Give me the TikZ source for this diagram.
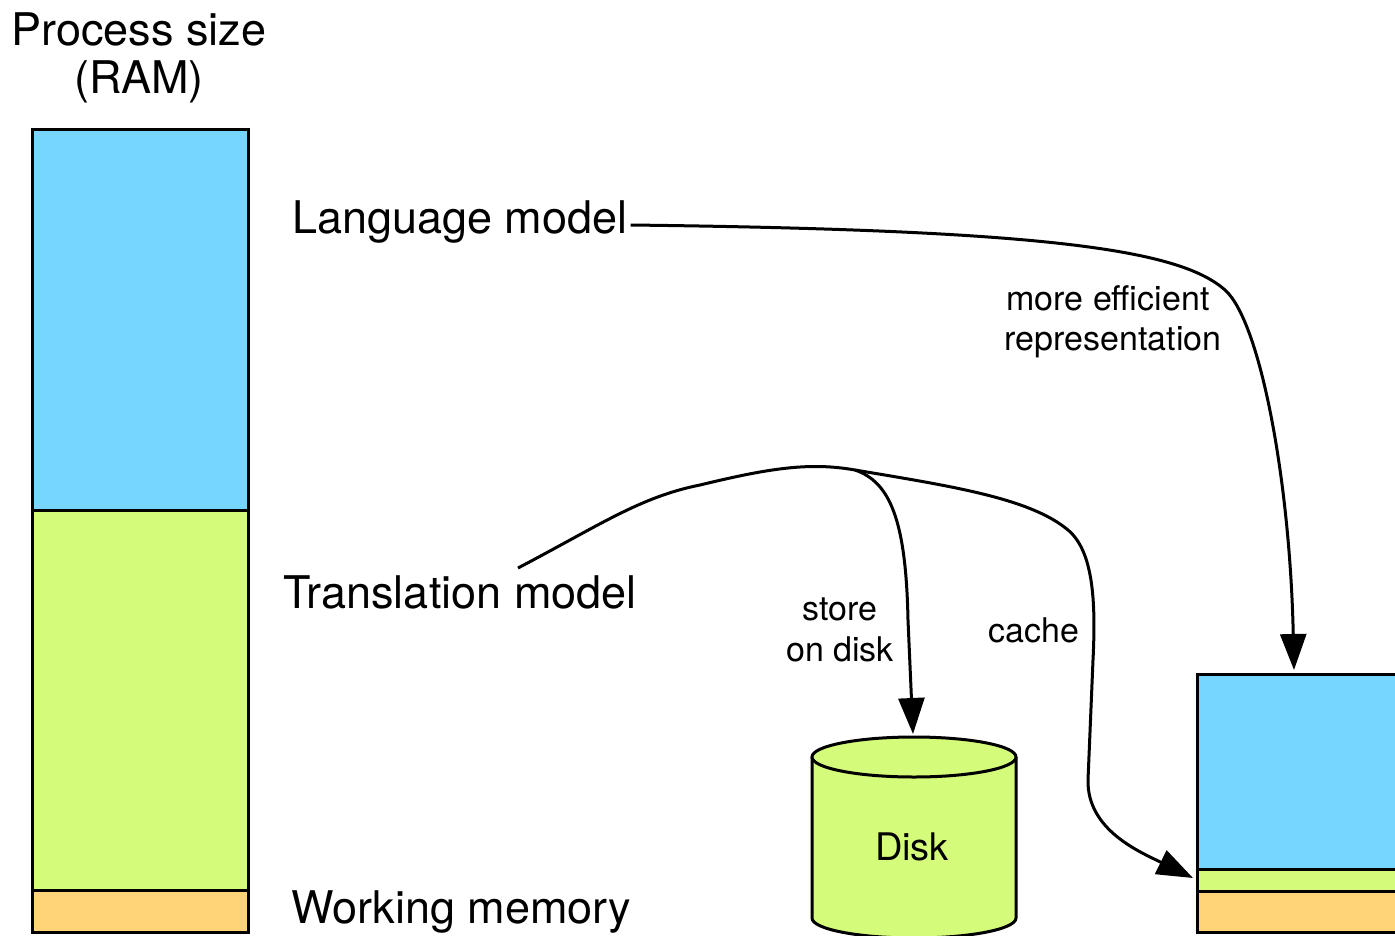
\documentclass[tikz,border=0pt]{standalone}
\usepackage{fontspec}
\setmainfont{TeX Gyre Heros}
\usetikzlibrary{arrows.meta}
\definecolor{sky}{HTML}{76D6FF}
\definecolor{honeydew}{HTML}{D4FB79}
\definecolor{cantaloupe}{HTML}{FFD479}
\begin{document}
\begin{tikzpicture}[x=1pt, y=-1pt, seg/.style={draw, line width=3pt}, big/.style={font=\fontsize{45}{48}\selectfont, inner sep=0pt}, lbl/.style={font=\fontsize{34}{41}\selectfont, inner sep=0pt, anchor=base}, arr/.style={line width=3pt, -{Triangle[length=36pt, width=26pt]}}]
\useasboundingbox (0,0) rectangle (1395,935);
\foreach \t/\b/\c in {129/510/sky, 510/890/honeydew, 890/932/cantaloupe}{\draw[seg, fill=\c] (32,\t) rectangle (248,\b);}
\foreach \t/\b/\c in {674/869/sky, 869/891/honeydew, 891/932/cantaloupe}{\draw[seg, fill=\c] (1197,\t) rectangle (1420,\b);}
\draw[seg, fill=honeydew] (812,757) -- (812,918) arc[start angle=180, end angle=0, x radius=102, y radius=20] -- (1016,757);
\draw[seg, fill=honeydew] (914,757) ellipse [x radius=102, y radius=20];
\node[big, anchor=base] (proc) at (139,45) {Process size};
\node[big, anchor=base] (ram) at (139,93) {(RAM)};
\node[big, anchor=base west] (lang) at (292,233) {Language model};
\node[big, anchor=base west] (trans) at (283,608) {Translation model};
\node[big, anchor=base west] (work) at (291,923) {Working memory};
\node[lbl, font=\fontsize{38}{40}\selectfont] (disk) at (912,860) {Disk};
\foreach \x/\y/\n/\s in {1108/310/eff/more efficient, 1113/350/repr/representation, 840/620/store/store, 840/661/ondisk/on disk, 1034/642/cache/cache}{\node[lbl] (\n) at (\x,\y) {\s};}
\coordinate (lmend) at (1294,670);
\coordinate (tmstart) at (518,568);
\coordinate (split) at (855,470);
\coordinate (disktop) at (913,734);
\coordinate (cacheend) at (1193,878);
\draw[arr] ([shift={(3,-8)}]lang.base east) .. controls (1050,230) and (1180,250) .. (1225,290) .. controls (1260,321) and (1290,480) .. (lmend);
\draw[line width=3pt] (tmstart) .. controls (600,525) and (640,497) .. (700,485) .. controls (770,468) and (810,462) .. (split);
\draw[arr] (split) .. controls (890,482) and (906,520) .. (908,620) -- (disktop);
\draw[arr] (split) .. controls (950,486) and (1030,498) .. (1068,530) .. controls (1093,551) and (1096,600) .. (1093,660) -- (1088,780) .. controls (1087,830) and (1140,852) .. (cacheend);
\end{tikzpicture}
\end{document}
